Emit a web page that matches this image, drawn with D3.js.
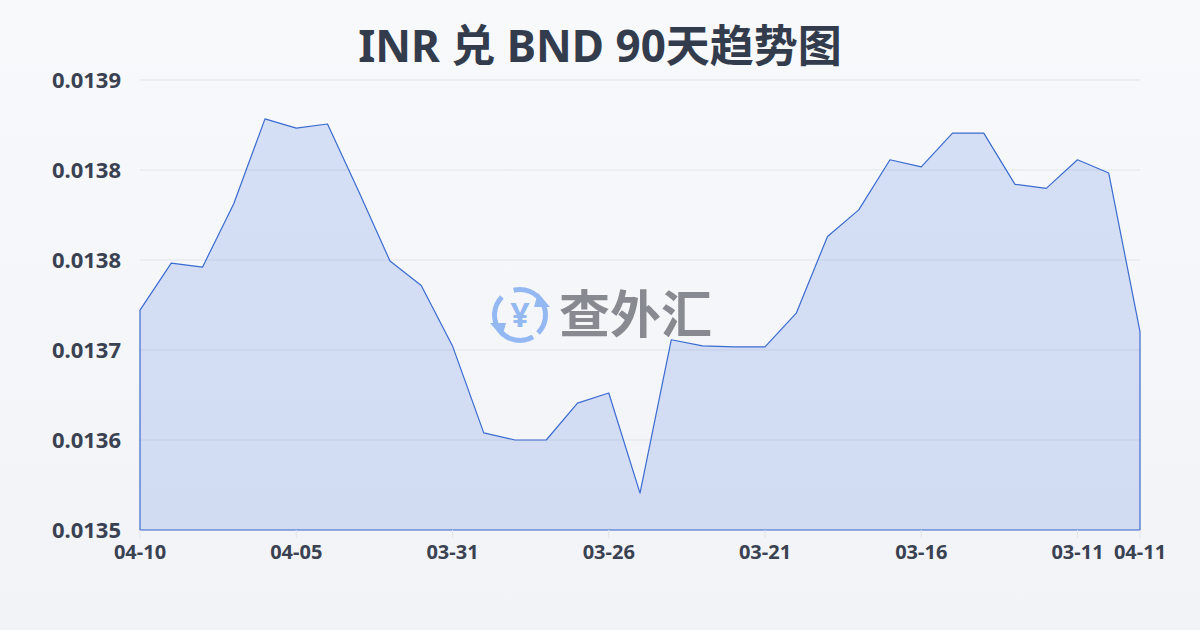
<!DOCTYPE html>
<html><head><meta charset="utf-8">
<script src="https://cdn.jsdelivr.net/npm/d3@7/dist/d3.min.js"></script>
<style>
html,body{margin:0;padding:0;}
body{width:1200px;height:630px;overflow:hidden;}
text{font-family:"Noto Sans","Noto Sans CJK SC",sans-serif;}
</style></head>
<body>
<svg id="chart" width="1200" height="630"></svg>
<script>
const title = "INR 兑 BND 90天趋势图";
const dates = ["04-10","04-09","04-08","04-07","04-06","04-05","04-04","04-03","04-02","04-01","03-31","03-30","03-29","03-28","03-27","03-26","03-25","03-24","03-23","03-22","03-21","03-20","03-19","03-18","03-17","03-16","03-15","03-14","03-13","03-12","03-11","03-10","04-11"];
const rates = [0.013711,0.013757,0.013753,0.013815,0.013898,0.013889,0.013893,0.013827,0.013759,0.013735,0.013676,0.013591,0.013584,0.013584,0.013620,0.013630,0.013532,0.013682,0.013676,0.013675,0.013675,0.013708,0.013783,0.013809,0.013858,0.013851,0.013884,0.013884,0.013834,0.013830,0.013858,0.013845,0.013690];
const yTicks = [0.013496,0.013584,0.013672,0.013760,0.013848,0.013936];
const xTickIdx = [0,5,10,15,20,25,30,32];

const svg = d3.select("#chart");
const defs = svg.append("defs");
const bg = defs.append("linearGradient").attr("id","bg").attr("x1",0).attr("y1",0).attr("x2",0).attr("y2",1);
bg.append("stop").attr("offset","0%").attr("stop-color","#f8f9fb");
bg.append("stop").attr("offset","100%").attr("stop-color","#f1f3f6");
svg.append("rect").attr("width",1200).attr("height",630).attr("fill","url(#bg)");

const L=140,R=1140,T=80,B=530;
const x = d3.scaleLinear().domain([0,dates.length-1]).range([L,R]);
const y = d3.scaleLinear().domain([yTicks[0],yTicks[yTicks.length-1]]).range([B,T]);

// grid
svg.append("g").selectAll("line").data(yTicks).join("line")
  .attr("x1",L).attr("x2",R).attr("y1",d=>y(d)).attr("y2",d=>y(d))
  .attr("stroke","#e2e5ea").attr("stroke-width",1);

// watermark
const wm = svg.append("g").attr("transform","translate(520,315)");
const arc = d3.arc().innerRadius(23).outerRadius(28);
wm.append("path").attr("d",arc({startAngle:-0.25,endAngle:Math.PI*0.75})).attr("fill","#94b8f2");
wm.append("path").attr("d",arc({startAngle:Math.PI*0.75+0.25,endAngle:Math.PI*1.75})).attr("fill","#94b8f2");
wm.append("path").attr("d","M18,-22 L30,-8 L14,-8 Z").attr("fill","#94b8f2");
wm.append("path").attr("d","M-18,22 L-30,8 L-14,8 Z").attr("fill","#94b8f2");
wm.append("text").attr("x",0).attr("y",12).attr("text-anchor","middle").attr("font-size",34).attr("font-weight",700).attr("fill","#94b8f2").text("¥");
svg.append("text").attr("x",559).attr("y",333).attr("font-size",51).attr("font-weight",700).attr("fill","#878a91")
  .style("font-family","'Noto Sans CJK SC'").text("查外汇");

// area
const area = d3.area().x((d,i)=>x(i)).y0(B).y1(d=>y(d));
svg.append("path").datum(rates).attr("d",area)
  .attr("fill","rgba(62,110,220,0.18)").attr("stroke","#3a6bd0").attr("stroke-width",1.2).attr("stroke-linejoin","round");

// x ticks
svg.append("g").selectAll("line").data(xTickIdx).join("line")
  .attr("x1",d=>x(d)).attr("x2",d=>x(d)).attr("y1",B).attr("y2",B+8)
  .attr("stroke","#e2e5ea");
svg.append("g").selectAll("text").data(xTickIdx).join("text")
  .attr("x",d=>x(d)).attr("y",559).attr("text-anchor","middle")
  .attr("font-size",20).attr("font-weight",700).attr("fill","#3a4252")
  .text(d=>dates[d]);

// y labels
svg.append("g").selectAll("text").data(yTicks).join("text")
  .attr("x",121).attr("y",d=>y(d)+8).attr("text-anchor","end")
  .attr("font-size",22).attr("font-weight",700).attr("fill","#3a4252")
  .text(d=>d.toFixed(4));

svg.append("text").attr("x",600).attr("y",62).attr("text-anchor","middle")
  .attr("font-size",44).attr("font-weight",700).attr("fill","#333c4c").text(title);
</script>
</body></html>
